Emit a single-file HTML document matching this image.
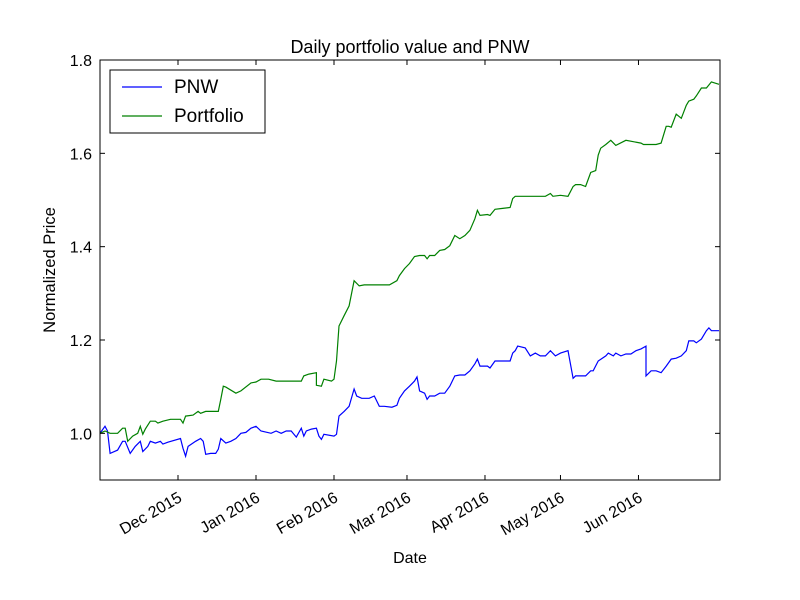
<!DOCTYPE html>
<html><head><meta charset="utf-8"><style>
html,body{margin:0;padding:0;background:#fff}
svg{display:block;font-family:"Liberation Sans","DejaVu Sans",sans-serif}
</style></head><body>
<svg id="chart" width="800" height="600" viewBox="0 0 800 600">
<rect width="800" height="600" fill="#fff"/>
<text x="410" y="53" font-size="18" text-anchor="middle">Daily portfolio value and PNW</text>
<text x="410" y="563" font-size="16" text-anchor="middle">Date</text>
<text transform="translate(55,270) rotate(-90)" font-size="16.5" text-anchor="middle">Normalized Price</text>
<g id="plot"></g>
<g>
<rect x="110" y="70" width="155" height="63" fill="#fff" stroke="#000" stroke-width="1"/>
<line x1="122" y1="87" x2="162" y2="87" stroke="#0000ff" stroke-width="1.2"/>
<text x="174" y="93" font-size="19">PNW</text>
<line x1="122" y1="116" x2="162" y2="116" stroke="#008000" stroke-width="1.2"/>
<text x="174" y="122" font-size="19">Portfolio</text>
</g>
</svg>
<script>
// day offsets from 2015-10-31
const pnwDays=[0,2,3,4,7,9,10,12,14,16,17,19,20,22,24,25,27,32,33,34,35,38,40,41,42,44,46,47,48,50,52,54,56,58,60,62,64,68,70,72,74,76,78,80,81,82,84,86,87,88,89,93,94,95,97,99,101,102,104,107,109,111,113,116,118,119,121,123,125,126,127,129,130,131,133,135,137,139,141,143,145,147,149,150,151,154,155,157,160,163,164,165,166,169,171,173,175,177,179,181,183,186,188,189,193,195,196,198,201,202,204,205,207,209,211,213,215,217,217,219,221,223,225,227,229,231,233,234,236,237,239,241,242,243,246];
const pnwValues=[1.000,1.015,1.005,0.957,0.964,0.983,0.983,0.957,0.972,0.983,0.961,0.972,0.983,0.979,0.983,0.977,0.981,0.989,0.968,0.951,0.972,0.983,0.989,0.983,0.955,0.957,0.957,0.966,0.989,0.979,0.983,0.989,1.000,1.002,1.011,1.015,1.005,1.000,1.005,1.000,1.005,1.005,0.992,1.011,0.994,1.005,1.009,1.011,0.994,0.987,0.998,0.994,0.998,1.037,1.047,1.058,1.095,1.080,1.075,1.075,1.080,1.058,1.058,1.056,1.060,1.075,1.091,1.101,1.112,1.121,1.091,1.086,1.073,1.080,1.080,1.086,1.086,1.101,1.123,1.125,1.125,1.134,1.149,1.159,1.144,1.144,1.140,1.155,1.155,1.155,1.172,1.177,1.187,1.183,1.166,1.172,1.166,1.166,1.177,1.166,1.172,1.177,1.118,1.123,1.123,1.134,1.134,1.155,1.166,1.172,1.166,1.172,1.166,1.170,1.170,1.177,1.181,1.187,1.123,1.134,1.134,1.130,1.144,1.159,1.161,1.166,1.177,1.198,1.198,1.194,1.202,1.220,1.226,1.220,1.220];
const pfDays=[0,2,4,7,9,10,11,13,15,16,17,18,20,22,23,25,28,32,33,34,37,39,40,42,45,47,48,49,50,54,56,60,62,64,67,70,72,76,80,81,83,86,86,88,89,92,93,94,95,97,99,101,103,105,107,109,115,118,119,121,123,125,127,129,130,131,133,135,137,139,141,143,145,147,149,150,151,154,155,157,160,163,164,165,167,171,175,177,179,180,183,186,188,189,191,193,195,197,198,199,201,203,205,209,215,216,219,221,223,225,226,227,229,231,233,234,236,237,239,241,243,246];
const pfValues=[1.000,1.005,1.000,1.000,1.011,1.011,0.983,0.994,1.000,1.015,0.998,1.009,1.026,1.026,1.022,1.026,1.030,1.030,1.022,1.037,1.039,1.047,1.043,1.047,1.047,1.047,1.073,1.101,1.099,1.086,1.091,1.108,1.110,1.116,1.116,1.112,1.112,1.112,1.112,1.123,1.127,1.130,1.103,1.101,1.116,1.112,1.116,1.155,1.230,1.252,1.273,1.327,1.316,1.318,1.318,1.318,1.318,1.327,1.338,1.353,1.364,1.379,1.381,1.381,1.374,1.381,1.381,1.392,1.394,1.402,1.424,1.417,1.424,1.435,1.460,1.478,1.467,1.469,1.467,1.480,1.482,1.484,1.503,1.508,1.508,1.508,1.508,1.508,1.514,1.508,1.510,1.508,1.529,1.533,1.533,1.529,1.559,1.563,1.596,1.611,1.619,1.628,1.617,1.628,1.622,1.619,1.619,1.619,1.622,1.658,1.658,1.656,1.684,1.675,1.703,1.712,1.716,1.723,1.740,1.740,1.753,1.748,1.748,1.748];
const xTickDays=[31,62,93,122,153,183,214];
const xTickLabels=["Dec 2015","Jan 2016","Feb 2016","Mar 2016","Apr 2016","May 2016","Jun 2016"];
const yTicks=[1.0,1.2,1.4,1.6,1.8];
const yTickLabels=["1.0","1.2","1.4","1.6","1.8"];

const L=100,R=720,T=60,B=480,X0=0,X1=246.4,Y0=0.9,Y1=1.8;
const xs=d=>L+(d-X0)/(X1-X0)*(R-L);
const ys=v=>B-(v-Y0)/(Y1-Y0)*(B-T);
const NS="http://www.w3.org/2000/svg";
const plot=document.getElementById('plot');
function mk(tag,attrs){const e=document.createElementNS(NS,tag);for(const k in attrs)e.setAttribute(k,attrs[k]);return e;}

const clip=mk('clipPath',{id:'clip'});clip.appendChild(mk('rect',{x:L,y:T,width:R-L,height:B-T}));plot.appendChild(clip);

function series(days,vals,color,name){
  const p=mk('path',{d:days.map((d,i)=>(i?'L':'M')+xs(d).toFixed(1)+','+ys(vals[i]).toFixed(1)).join(''),fill:'none',stroke:color,'stroke-width':1.2,'clip-path':'url(#clip)'});
  
  
  plot.appendChild(p);
}
series(pnwDays,pnwValues,'#0000ff','pnw-line');
series(pfDays,pfValues,'#008000','portfolio-line');

const frame=mk('rect',{x:L,y:T,width:R-L,height:B-T,fill:'none',stroke:'#000','stroke-width':1});


plot.appendChild(frame);

yTicks.forEach((v,i)=>{
  const y=ys(v);
  plot.appendChild(mk('line',{x1:L,y1:y,x2:L+5,y2:y,stroke:'#000'}));
  plot.appendChild(mk('line',{x1:R,y1:y,x2:R-5,y2:y,stroke:'#000'}));
  const t=mk('text',{x:L-8,y:y+6,'font-size':16,'text-anchor':'end'});
  t.textContent=yTickLabels[i];
  
  
  plot.appendChild(t);
});
xTickDays.forEach((d,i)=>{
  const x=xs(d);
  plot.appendChild(mk('line',{x1:x,y1:B,x2:x,y2:B-5,stroke:'#000'}));
  plot.appendChild(mk('line',{x1:x,y1:T,x2:x,y2:T+5,stroke:'#000'}));
  const t=mk('text',{transform:`translate(${x},${B+12}) rotate(-30)`,'font-size':16,'text-anchor':'end',y:10});
  t.textContent=xTickLabels[i];
  
  
  plot.appendChild(t);
});
</script>
</body></html>
